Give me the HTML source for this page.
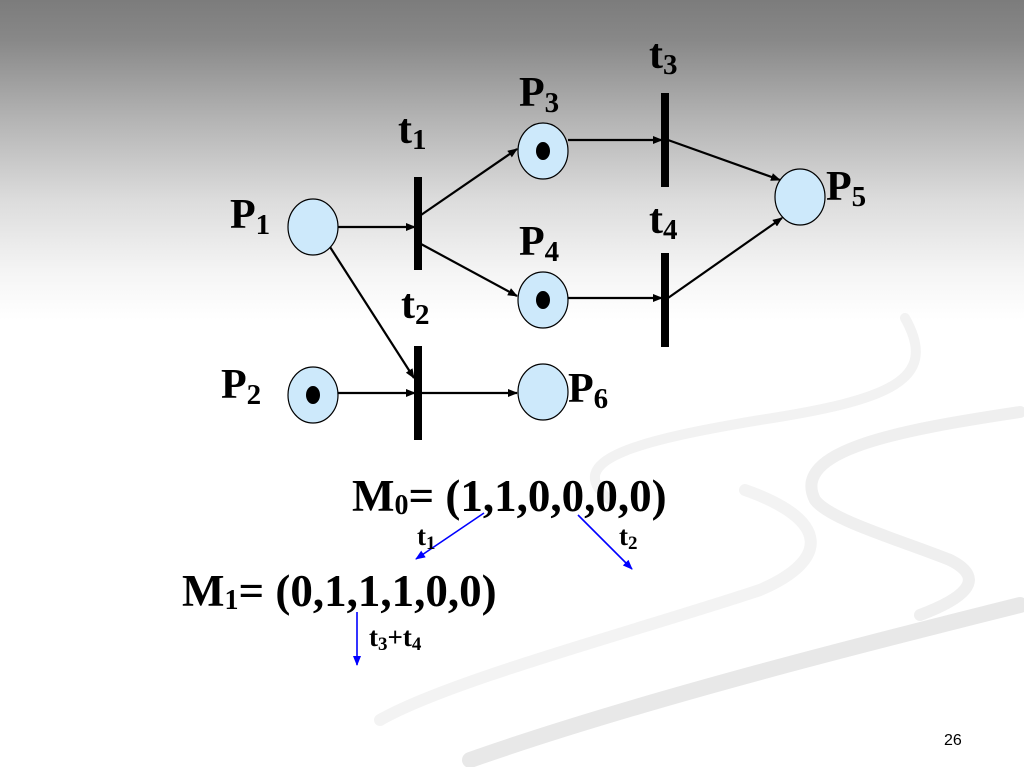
<!DOCTYPE html>
<html><head><meta charset="utf-8"><style>
html,body{margin:0;padding:0;}
body{width:1024px;height:767px;overflow:hidden;position:relative;background:#fff;}
.bg{position:absolute;left:0;top:0;width:1024px;height:767px;background:linear-gradient(to bottom,#7c7c7c 0px,#888 40px,#b4b4b4 120px,#dcdcdc 200px,#f4f4f4 270px,#fff 320px,#fff 767px);}
svg{position:absolute;left:0;top:0;}
text{font-family:"Liberation Serif",serif;font-weight:bold;fill:#000;}
</style></head><body>
<div class="bg"></div>
<svg width="1024" height="767" viewBox="0 0 1024 767">
<defs>
<marker id="a" markerWidth="10" markerHeight="8" refX="9" refY="4" orient="auto" markerUnits="userSpaceOnUse"><path d="M0,0 L10,4 L0,8 Z" fill="#000"/></marker>
<marker id="b" markerWidth="10" markerHeight="8" refX="9" refY="4" orient="auto" markerUnits="userSpaceOnUse"><path d="M0,0 L10,4 L0,8 Z" fill="#00f"/></marker>
</defs>
<g fill="none" stroke-linecap="round">
<path d="M905,318 C940,380 890,400 760,420 C640,440 560,460 610,500" stroke="#f2f2f2" stroke-width="10"/>
<path d="M1020,412 C900,430 790,450 815,500 C830,520 900,540 950,560 C990,580 960,600 920,615" stroke="#efefef" stroke-width="12"/>
<path d="M745,490 C830,520 830,560 760,590 C640,630 450,680 380,720" stroke="#f3f3f3" stroke-width="12"/>
<path d="M1020,605 C880,640 640,700 470,760" stroke="#e8e8e8" stroke-width="16"/>
</g>
<g stroke="#000" stroke-width="2.2" fill="none" marker-end="url(#a)">
<line x1="338" y1="227" x2="415" y2="227"/>
<line x1="421" y1="215" x2="517" y2="149"/>
<line x1="421" y1="244" x2="517" y2="296"/>
<line x1="330" y1="247" x2="414" y2="378"/>
<line x1="338" y1="393" x2="415" y2="393"/>
<line x1="421" y1="393" x2="517" y2="393"/>
<line x1="568" y1="140" x2="662" y2="140"/>
<line x1="668" y1="140" x2="780" y2="180"/>
<line x1="568" y1="298" x2="662" y2="298"/>
<line x1="668" y1="298" x2="782" y2="218"/>
</g>
<g fill="#000">
<rect x="414" y="177" width="8" height="93"/>
<rect x="414" y="346" width="8" height="94"/>
<rect x="661" y="93" width="8" height="94"/>
<rect x="661" y="253" width="8" height="94"/>
</g>
<g fill="#cde9fb" stroke="#000" stroke-width="1.2">
<ellipse cx="313" cy="227" rx="25" ry="28"/>
<ellipse cx="313" cy="395" rx="25" ry="28"/>
<ellipse cx="543" cy="151" rx="25" ry="28"/>
<ellipse cx="543" cy="300" rx="25" ry="28"/>
<ellipse cx="543" cy="392" rx="25" ry="28"/>
<ellipse cx="800" cy="197" rx="25" ry="28"/>
</g>
<g fill="#000">
<ellipse cx="313" cy="395" rx="7" ry="9"/>
<ellipse cx="543" cy="151" rx="7" ry="9"/>
<ellipse cx="543" cy="300" rx="7" ry="9"/>
</g>
<g font-size="42">
<text x="230" y="228">P<tspan font-size="29" dy="6">1</tspan></text>
<text x="221" y="398">P<tspan font-size="29" dy="6">2</tspan></text>
<text x="519" y="106">P<tspan font-size="29" dy="6">3</tspan></text>
<text x="519" y="255">P<tspan font-size="29" dy="6">4</tspan></text>
<text x="826" y="200">P<tspan font-size="29" dy="6">5</tspan></text>
<text x="568" y="402">P<tspan font-size="29" dy="6">6</tspan></text>
<text x="398" y="143">t<tspan font-size="29" dy="6">1</tspan></text>
<text x="401" y="318">t<tspan font-size="29" dy="6">2</tspan></text>
<text x="649" y="68">t<tspan font-size="29" dy="6">3</tspan></text>
<text x="649" y="233">t<tspan font-size="29" dy="6">4</tspan></text>
</g>
<text x="352" y="511" font-size="45">M<tspan font-size="28" dy="3">0</tspan><tspan dy="-3">= (1,1,0,0,0,0)</tspan></text>
<text x="182" y="606" font-size="45">M<tspan font-size="28" dy="3">1</tspan><tspan dy="-3">= (0,1,1,1,0,0)</tspan></text>
<g stroke="#00f" stroke-width="1.6" marker-end="url(#b)">
<line x1="484" y1="513" x2="416" y2="559"/>
<line x1="578" y1="515" x2="632" y2="569"/>
<line x1="357" y1="612" x2="357" y2="665"/>
</g>
<text x="417" y="545" font-size="27">t<tspan font-size="19" dy="4">1</tspan></text>
<text x="619" y="545" font-size="27">t<tspan font-size="19" dy="4">2</tspan></text>
<text x="369" y="646" font-size="27">t<tspan font-size="19" dy="4">3</tspan><tspan dy="-4">+t</tspan><tspan font-size="19" dy="4">4</tspan></text>
<text x="944" y="745" font-size="16" style="font-family:'Liberation Sans',sans-serif;font-weight:normal">26</text>
</svg>
</body></html>
